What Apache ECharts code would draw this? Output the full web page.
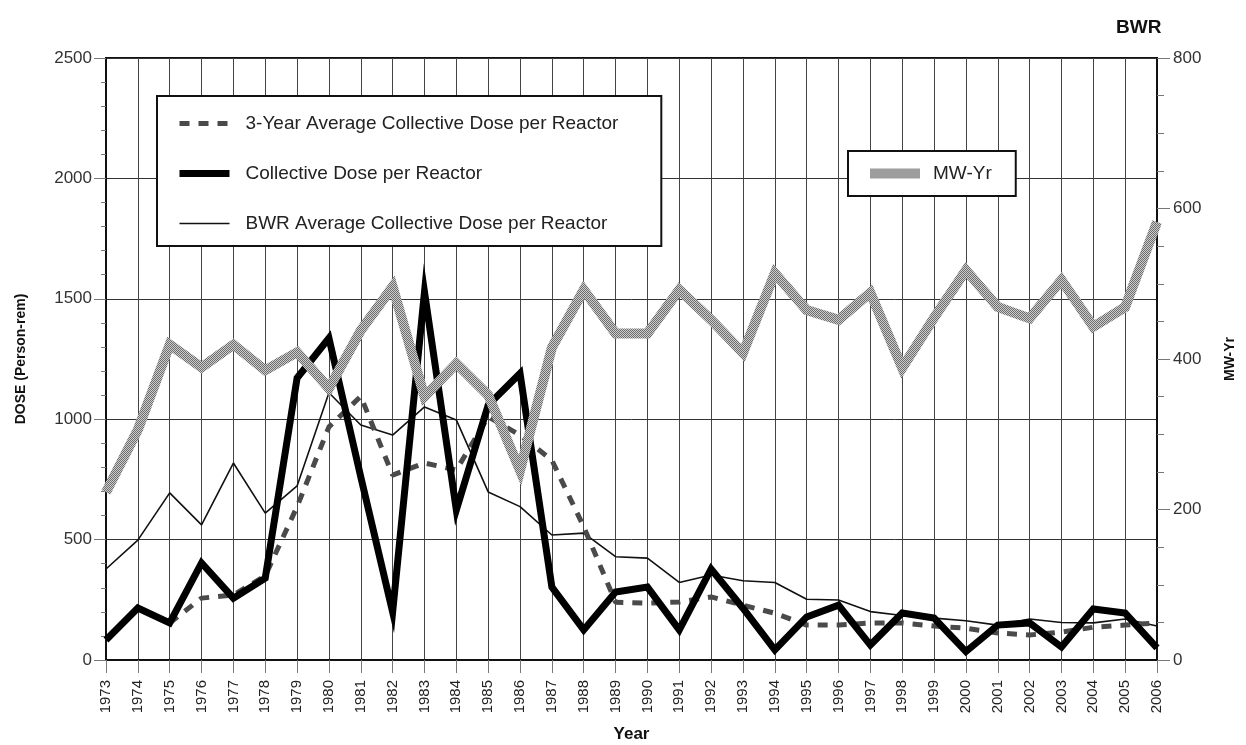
<!DOCTYPE html>
<html>
<head>
<meta charset="utf-8">
<script src="https://cdn.jsdelivr.net/npm/echarts@6/dist/echarts.min.js"></script>
<style>
html,body{margin:0;padding:0;background:#fff;}
#chart{width:1246px;height:745px;}
</style>
</head>
<body>
<div id="chart"></div>
<script>
const years = ['1973','1974','1975','1976','1977','1978','1979','1980','1981','1982','1983','1984','1985','1986','1987','1988','1989','1990','1991','1992','1993','1994','1995','1996','1997','1998','1999','2000','2001','2002','2003','2004','2005','2006'];
const collectiveDose = [83,216,154,403,257,340,1171,1337,760,199,1528,623,1059,1190,303,125,282,303,125,378,215,42,179,228,62,195,174,35,145,154,54,212,195,50];
const bwrAverage = [378,498,694,561,818,610,723,1110,976,934,1051,997,698,637,519,527,429,423,322,353,329,322,252,249,201,185,174,163,145,170,156,154,170,141];
const threeYearAvg = [null,null,154,257,270,350,637,968,1095,768,818,789,1010,934,830,553,240,236,241,262,228,194,145,145,154,154,141,132,112,104,116,136,145,154];
const mwYr = [223,306,419,389,419,385,409,361,438,496,350,394,352,252,415,492,434,434,492,452,408,514,465,452,488,388,455,518,469,454,505,443,469,582];
const doseTicks = [0,500,1000,1500,2000,2500];
const mwTicks = [0,200,400,600,800];

const FONT = 'Liberation Sans, Arial, sans-serif';

// checker pattern for MW-Yr line
const pc = document.createElement('canvas');
pc.width = 2; pc.height = 2;
const pctx = pc.getContext('2d');
pctx.fillStyle = '#cccccc'; pctx.fillRect(0,0,2,2);
pctx.fillStyle = '#6e6e6e'; pctx.fillRect(0,0,1,1); pctx.fillRect(1,1,1,1);

const chart = echarts.init(document.getElementById('chart'), null, {renderer:'canvas'});
const option = {
  animation: false,
  backgroundColor: '#fff',
  title: {
    text: 'BWR', left: 1111, top: 13,
    textStyle: {fontFamily: FONT, fontSize: 19, fontWeight: 'bold', color: '#111'}
  },
  grid: {left: 106, right: 89, top: 58, bottom: 85, outerBoundsMode: 'none', containLabel: false, show: true, borderColor: '#111', borderWidth: 2, backgroundColor: 'transparent'},
  legend: [
    {
      data: ['3-Year Average Collective Dose per Reactor','Collective Dose per Reactor','BWR Average Collective Dose per Reactor'],
      orient: 'vertical', left: 157, top: 96,
      backgroundColor: '#fff', borderColor: '#111', borderWidth: 2, borderRadius: 0,
      padding: [18, 43, 13, 19],
      itemWidth: 50, itemHeight: 20, itemGap: 31,
      lineStyle: {width: 'inherit'},
      itemStyle: {opacity: 0},
      textStyle: {fontFamily: FONT, fontSize: 19, color: '#222', padding: [0,0,0,11]},
      selectedMode: false
    },
    {
      data: ['MW-Yr'],
      orient: 'vertical', left: 848, top: 151,
      backgroundColor: '#fff', borderColor: '#111', borderWidth: 2, borderRadius: 0,
      padding: [13, 24, 13, 17],
      itemWidth: 50, itemHeight: 20,
      lineStyle: {width: 'inherit'},
      itemStyle: {opacity: 0},
      textStyle: {fontFamily: FONT, fontSize: 19, color: '#222', padding: [0,0,0,8]},
      selectedMode: false
    }
  ],
  xAxis: {
    type: 'category', data: years, boundaryGap: false,
    name: 'Year', nameLocation: 'middle', nameGap: 66,
    nameTextStyle: {fontFamily: FONT, fontSize: 17, fontWeight: 'bold', color: '#111'},
    axisLine: {show: true, lineStyle: {color: '#111', width: 2}},
    axisTick: {show: true, length: 13, lineStyle: {color: '#777', width: 1}},
    axisLabel: {rotate: 90, fontFamily: FONT, fontSize: 15, color: '#222', margin: 20, interval: 0},
    splitLine: {show: true, interval: 0, lineStyle: {color: '#444', width: 1}}
  },
  yAxis: [
    {
      type: 'value', min: 0, max: 2500, interval: 500, position: 'left',
      name: 'DOSE (Person-rem)', nameLocation: 'middle', nameGap: 78, nameRotate: 90,
      nameTextStyle: {fontFamily: FONT, fontSize: 14, fontWeight: 'bold', color: '#111'},
      axisLine: {show: true, lineStyle: {color: '#111', width: 2}},
      axisTick: {show: true, length: 12, lineStyle: {color: '#777'}},
      minorTick: {show: true, splitNumber: 5, length: 5, lineStyle: {color: '#777'}},
      axisLabel: {fontFamily: FONT, fontSize: 17, color: '#333', margin: 14, formatter: v => String(v)},
      splitLine: {show: true, lineStyle: {color: '#333', width: 1}}
    },
    {
      type: 'value', min: 0, max: 800, interval: 200, position: 'right',
      name: 'MW-Yr', nameLocation: 'middle', nameGap: 66, nameRotate: 90,
      nameTextStyle: {fontFamily: FONT, fontSize: 14, fontWeight: 'bold', color: '#111'},
      axisLine: {show: true, lineStyle: {color: '#111', width: 2}},
      axisTick: {show: true, length: 13, lineStyle: {color: '#777'}},
      minorTick: {show: true, splitNumber: 4, length: 7, lineStyle: {color: '#777'}},
      axisLabel: {fontFamily: FONT, fontSize: 17, color: '#333', margin: 16, formatter: v => String(v)},
      splitLine: {show: false}
    }
  ],
  series: [
    {
      name: 'BWR Average Collective Dose per Reactor', type: 'line', data: bwrAverage,
      symbol: 'none', z: 3,
      lineStyle: {color: '#111', width: 1.6},
      itemStyle: {color: '#111'}
    },
    {
      name: '3-Year Average Collective Dose per Reactor', type: 'line', data: threeYearAvg,
      symbol: 'none', z: 4,
      lineStyle: {color: '#4a4a4a', width: 5, type: [10, 9]},
      itemStyle: {color: '#4a4a4a'}
    },
    {
      name: 'Collective Dose per Reactor', type: 'line', data: collectiveDose,
      symbol: 'none', z: 5,
      lineStyle: {color: '#000', width: 7, join: 'miter'},
      itemStyle: {color: '#000'}
    },
    {
      name: 'MW-Yr', type: 'line', yAxisIndex: 1, data: mwYr,
      symbol: 'none', z: 6,
      lineStyle: {color: {image: pc, repeat: 'repeat'}, width: 10, join: 'miter'},
      itemStyle: {color: '#aaa'}
    }
  ]
};
chart.setOption(option);
</script>
</body>
</html>
